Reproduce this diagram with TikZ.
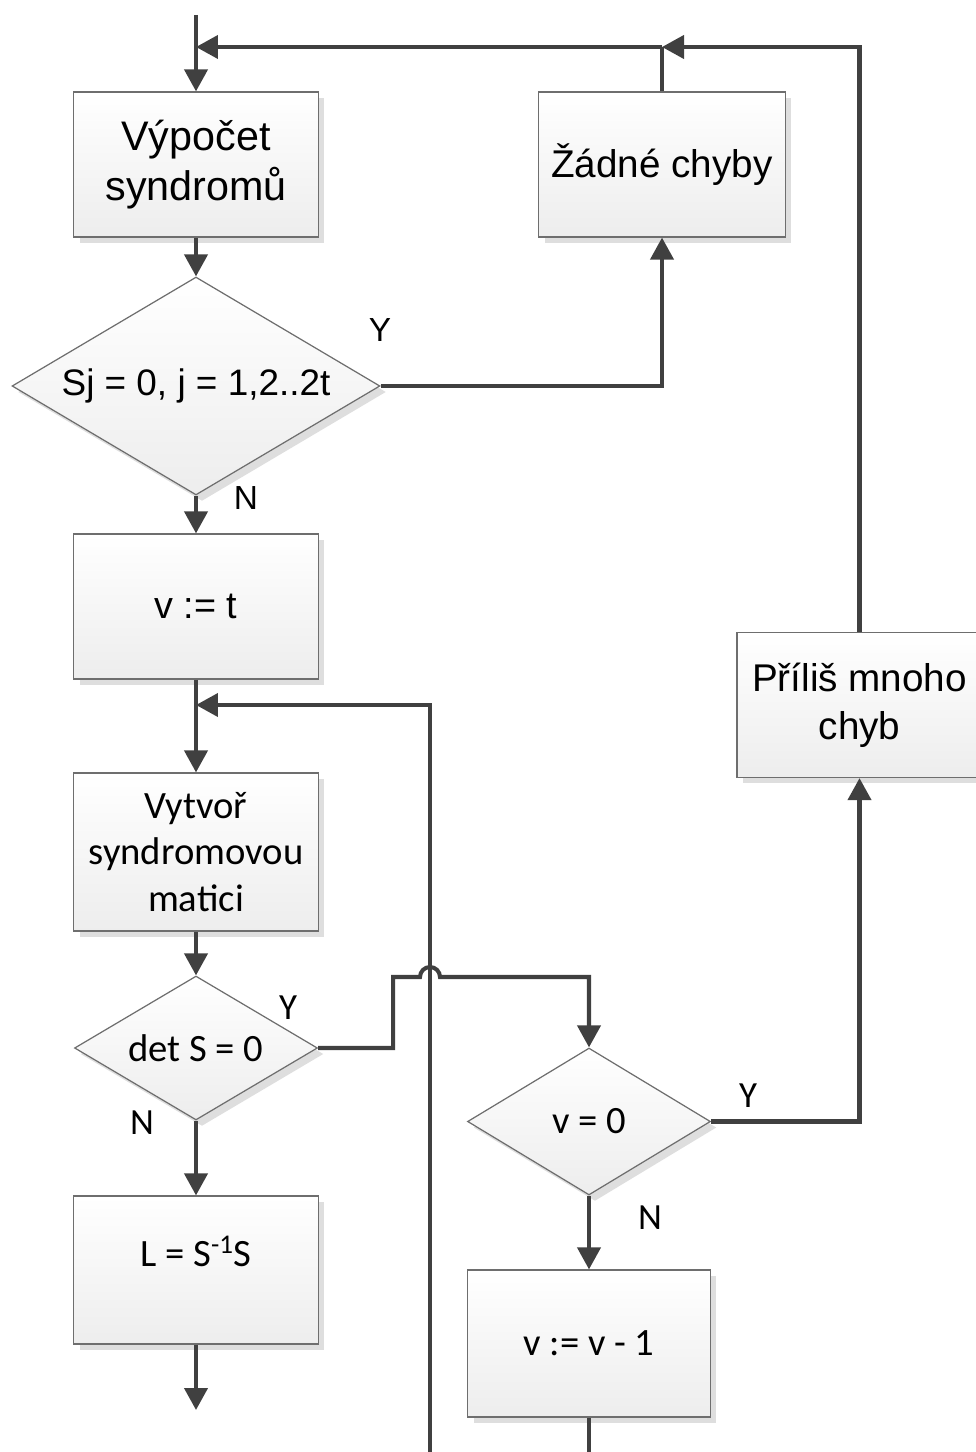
\documentclass[tikz,border=0pt]{standalone}
\usepackage{fontspec}
\setmainfont{Liberation Sans}
\newfontfamily\calib{Carlito}
\usepackage{tikz}
\usetikzlibrary{positioning,shapes.geometric,arrows.meta,shadows}

\definecolor{linegray}{HTML}{404040}
\definecolor{edgegray}{HTML}{6E6E6E}

\begin{document}
\begin{tikzpicture}[x=0.02cm,y=-0.02cm,
    shape common/.style={draw=edgegray,line width=0.7pt,top color=white,bottom color=black!7,
      general shadow={fill=black!13,shadow xshift=0.12cm,shadow yshift=-0.12cm},inner sep=0pt,align=center},
    box/.style={shape common,rectangle,minimum width=4.9cm,minimum height=2.9cm},
    decision/.style={shape common,diamond,aspect=1.69,minimum width=4.86cm,minimum height=2.9cm},
    flow/.style={draw=linegray,line width=2.3pt,-{Triangle[length=0.44cm,width=0.46cm]}},
    wire/.style={draw=linegray,line width=2.3pt},
    arialtext/.style={font=\fontsize{22}{27.5}\selectfont},
    calibtext/.style={font=\calib\fontsize{22}{26.5}\selectfont},
    yn/.style={font=\fontsize{19}{22}\selectfont},
    yncal/.style={font=\calib\fontsize{21}{24}\selectfont}]
\useasboundingbox (0,0) rectangle (975,1452);

% boxes
\node[box,arialtext,font=\fontsize{23.5}{28.5}\selectfont] (syn) at (196,164.5) {Výpočet\\syndromů};
\node[box,arialtext,minimum width=4.94cm] (noerr) at (662,164.5) {Žádné chyby};
\node[decision,arialtext,font=\fontsize{21}{25}\selectfont,minimum width=7.36cm,minimum height=4.36cm] (sj) at (196,386) {Sj = 0, j = 1,2..2t};
\node[box,arialtext,font=\fontsize{21.5}{25}\selectfont] (vt) at (196,606.5) {v := t};
\node[box,calibtext,minimum height=3.16cm] (matrix) at (196,852) {Vytvoř\\syndromovou\\matici};
\node[decision,calibtext,minimum height=2.88cm] (det) at (196,1048) {det S = 0};
\node[box,calibtext,minimum height=2.96cm,text depth=0.75cm] (lin) at (196,1270) {L = S\textsuperscript{-1}S};
\node[decision,calibtext,minimum height=2.94cm] (vzero) at (589,1121.5) {v = 0};
\node[box,calibtext,minimum width=4.86cm,minimum height=2.94cm] (dec) at (589,1343.5) {v := v - 1};
\node[box,arialtext] (many) at (859.5,705) {Příliš mnoho\\chyb};

% labels
\node[yn] (y1) at (380,330) {Y};
\node[yn] (n1) at (246,498) {N};
\node[yncal] (y2) at (288,1008) {Y};
\node[yncal] (n2) at (142,1123) {N};
\node[yncal] (y3) at (748,1096) {Y};
\node[yncal] (n3) at (650,1218) {N};

% free ends
\coordinate (start) at (196,15);
\coordinate (join1) at (196,47);
\coordinate (join2) at (662,47);
\coordinate (join3) at (196,705);
\coordinate (loopin) at (430,1470);
\coordinate (out1) at (196,1410);
\coordinate (out2) at (589,1470);

% connectors
\draw[flow] (start) -- (syn);
\draw[flow] (syn) -- (sj);
\draw[flow] (sj.east) -| (noerr.south);
\draw[flow] (sj.south) -- (vt.north);
\draw[flow] (vt) -- (matrix);
\draw[flow] (loopin) |- (join3);
\draw[flow] (matrix) -- (det.north);
\draw[flow] (det.south) -- (lin.north);
\draw[flow] (lin) -- (out1);
\draw[flow] (det.east) -- ++(75,0) |- (420,977) arc (180:360:10) -| (vzero.north);
\draw[flow] (vzero.south) -- (dec.north);
\draw[wire] (dec) -- (out2);
\draw[flow] (vzero.east) -| (many.south);
\draw[wire] (noerr) -- (join2);
\draw[flow] (many) |- (join2);
\draw[flow] (join2) -- (join1);
\end{tikzpicture}
\end{document}
